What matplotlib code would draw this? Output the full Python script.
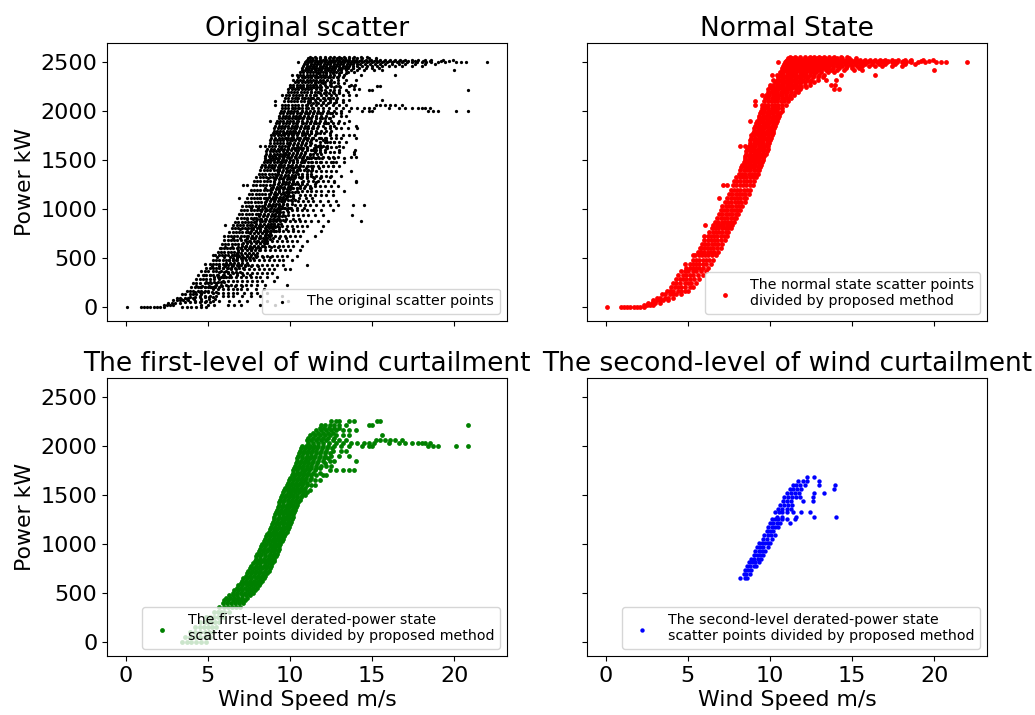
import matplotlib
matplotlib.use("Agg")
import matplotlib.pyplot as plt

# each row is (power kW, [wind speeds at that power])
normal_rows = [
    (-5, [0.05, 0.9, 1.1, 1.3, 1.5, 1.7, 1.9, 2.1, 2.3]),
    (20, [2.3, 2.5, 2.7, 2.9]),
    (40, [2.6, 2.8, 3.0, 3.3]),
    (65, [2.9, 3.1, 3.3, 3.5, 3.8]),
    (90, [3.1, 3.3, 3.6, 3.8, 4.1]),
    (125, [3.4, 3.6, 3.9, 4.1, 4.3, 4.6]),
    (160, [3.7, 3.9, 4.1, 4.4, 4.6, 4.8, 5.0]),
    (200, [4.0, 4.2, 4.4, 4.6, 4.8, 5.1, 5.3]),
    (240, [4.1, 4.3, 4.5, 4.8, 5.0, 5.2, 5.5]),
    (280, [4.3, 4.5, 4.7, 4.9, 5.1, 5.4, 5.7]),
    (320, [4.4, 4.7, 4.9, 5.1, 5.3, 5.6, 5.9]),
    (360, [4.6, 4.8, 5.0, 5.3, 5.5, 5.8, 6.1]),
    (400, [4.9, 5.1, 5.3, 5.5, 5.7, 5.9, 6.2]),
    (440, [4.85, 5.1, 5.3, 5.5, 5.7, 5.9, 6.1, 6.4]),
    (480, [5.3, 5.5, 5.7, 5.9, 6.1, 6.3, 6.5]),
    (525, [5.3, 5.45, 5.65, 5.85, 6.05, 6.25, 6.45, 6.7]),
    (560, [5.6, 5.8, 6.0, 6.2, 6.4, 6.6, 6.85]),
    (600, [5.8, 5.75, 5.95, 6.15, 6.35, 6.55, 6.75, 7.0]),
    (640, [5.85, 6.05, 6.25, 6.45, 6.65, 6.85, 7.1]),
    (680, [6.0, 6.2, 6.4, 6.6, 6.8, 7.0, 7.25]),
    (720, [6.0, 6.2, 6.4, 6.6, 6.8, 7.0, 7.2, 7.4]),
    (760, [6.3, 6.5, 6.7, 6.9, 7.1, 7.3, 7.45]),
    (800, [6.45, 6.65, 6.85, 7.05, 7.25, 7.45, 7.6]),
    (830, [6.05, 6.55, 6.75, 6.95, 7.15, 7.35, 7.55, 7.7]),
    (870, [6.65, 6.85, 7.05, 7.25, 7.45, 7.65, 7.8]),
    (910, [6.8, 7.0, 7.2, 7.4, 7.6, 7.8, 7.95]),
    (950, [6.9, 7.1, 7.3, 7.5, 7.7, 7.9, 8.05]),
    (990, [7.0, 7.2, 7.4, 7.6, 7.8, 8.0, 8.15]),
    (1030, [7.1, 7.3, 7.5, 7.7, 7.9, 8.1, 8.3]),
    (1070, [7.25, 7.45, 7.65, 7.85, 8.05, 8.25, 8.45]),
    (1110, [6.9, 7.4, 7.6, 7.8, 8.0, 8.2, 8.4, 8.55]),
    (1150, [7.5, 7.7, 7.9, 8.1, 8.3, 8.5, 8.7]),
    (1190, [7.6, 7.8, 8.0, 8.2, 8.4, 8.6, 8.8]),
    (1240, [7.13, 7.4, 7.75, 7.95, 8.15, 8.35, 8.55, 8.75, 8.95]),
    (1280, [7.8, 8.0, 8.2, 8.4, 8.6, 8.8, 9.05]),
    (1320, [7.95, 8.15, 8.35, 8.55, 8.75, 8.95, 9.15]),
    (1360, [8.1, 8.3, 8.5, 8.7, 8.9, 9.1, 9.25]),
    (1400, [8.2, 8.4, 8.6, 8.8, 9.0, 9.2, 9.35]),
    (1425, [8.25, 8.45, 8.65, 8.85, 9.05, 9.25, 9.4]),
    (1450, [8.3, 8.5, 8.7, 8.9, 9.1, 9.3, 9.45]),
    (1475, [8.4, 8.6, 8.8, 9.0, 9.2, 9.4, 9.5]),
    (1500, [8.45, 8.65, 8.85, 9.05, 9.25, 9.55]),
    (1520, [8.5, 8.75, 8.95, 9.15, 9.35, 9.6]),
    (1540, [8.5, 8.7, 8.9, 9.1, 9.3, 9.5, 9.65]),
    (1565, [8.55, 8.8, 9.0, 9.2, 9.4, 9.6, 9.75]),
    (1590, [8.55, 8.75, 8.95, 9.15, 9.35, 9.55, 9.8]),
    (1615, [8.6, 8.85, 9.05, 9.25, 9.45, 9.65, 9.85]),
    (1640, [8.2, 8.45, 8.7, 8.9, 9.1, 9.3, 9.5, 9.7, 9.9]),
    (1670, [8.75, 9.0, 9.2, 9.4, 9.6, 9.8, 9.95]),
    (1700, [8.8, 9.0, 9.2, 9.4, 9.6, 9.8, 10.0]),
    (1725, [8.85, 9.1, 9.3, 9.5, 9.7, 9.9, 10.05]),
    (1750, [8.85, 9.05, 9.25, 9.45, 9.65, 9.85, 10.1]),
    (1775, [8.95, 9.15, 9.35, 9.55, 9.75, 9.95, 10.15]),
    (1800, [9.0, 9.2, 9.4, 9.6, 9.8, 10.0, 10.2]),
    (1825, [9.05, 9.25, 9.45, 9.65, 9.85, 10.05, 10.25]),
    (1850, [9.1, 9.3, 9.5, 9.7, 9.9, 10.1, 10.3]),
    (1875, [9.15, 9.35, 9.55, 9.75, 9.95, 10.15, 10.35]),
    (1900, [8.75, 9.2, 9.4, 9.6, 9.8, 10.0, 10.2, 10.4]),
    (1925, [9.3, 9.5, 9.7, 9.9, 10.1, 10.3, 10.5]),
    (1950, [9.35, 9.55, 9.75, 9.95, 10.15, 10.35, 10.55]),
    (1975, [9.4, 9.6, 9.8, 10.0, 10.2, 10.4, 10.6]),
    (2000, [9.45, 9.65, 9.85, 10.05, 10.25, 10.45, 10.7]),
    (2030, [9.5, 9.7, 9.9, 10.1, 10.3, 10.5, 10.75]),
    (2060, [9.1, 9.5, 9.7, 9.9, 10.1, 10.3, 10.5, 10.75, 10.95]),
    (2100, [9.1, 9.65, 9.85, 10.05, 10.25, 10.45, 10.65, 10.85, 11.1]),
    (2130, [9.7, 9.9, 10.1, 10.3, 10.5, 10.7, 10.9, 11.1, 11.3]),
    (2160, [9.5, 9.75, 9.95, 10.15, 10.35, 10.55, 10.75, 10.95, 11.2, 11.45]),
    (2190, [9.85, 10.05, 10.25, 10.45, 10.65, 10.85, 11.05, 11.25, 11.5, 11.7]),
    (2220, [9.9, 10.1, 10.3, 10.5, 10.7, 10.9, 11.1, 11.3, 11.55, 11.8, 13.9, 14.2]),
    (2245, [10.0, 10.2, 10.4, 10.6, 10.8, 11.0, 11.2, 11.4, 11.65, 11.9, 12.2]),
    (2270, [10.0, 10.2, 10.4, 10.6, 10.8, 11.0, 11.2, 11.4, 11.6, 11.85, 12.1, 12.4, 13.7, 13.95]),
    (2295, [10.3, 10.5, 10.7, 10.9, 11.1, 11.3, 11.5, 11.7, 11.9, 12.15, 12.4, 12.7]),
    (2320, [10.2, 10.4, 10.6, 10.8, 11.0, 11.2, 11.4, 11.6, 11.8, 12.0, 12.25, 12.5, 12.9, 13.4, 14.0]),
    (2345, [10.5, 10.7, 10.9, 11.1, 11.3, 11.5, 11.7, 11.9, 12.1, 12.3, 12.6, 12.9, 13.2]),
    (2370, [10.1, 10.4, 10.6, 10.8, 11.0, 11.2, 11.4, 11.6, 11.8, 12.0, 12.2, 12.4, 12.7, 13.0, 13.3, 14.3, 16.4]),
    (2395, [10.6, 10.8, 11.0, 11.2, 11.4, 11.6, 11.8, 12.0, 12.2, 12.4, 12.6, 12.8, 13.1, 13.5, 13.9]),
    (2420, [10.7, 10.9, 11.1, 11.3, 11.5, 11.7, 11.9, 12.1, 12.3, 12.5, 12.7, 12.9, 13.1, 13.4, 13.7, 14.1, 14.5, 15.1, 15.6, 20.0]),
    (2440, [10.75, 10.95, 11.15, 11.35, 11.55, 11.75, 11.95, 12.15, 12.35, 12.55, 12.75, 12.95, 13.15, 13.35, 13.55, 13.8, 14.2, 14.6, 15.0, 15.4]),
    (2460, [10.8, 11.0, 11.2, 11.4, 11.6, 11.8, 12.0, 12.2, 12.4, 12.6, 12.8, 13.0, 13.2, 13.4, 13.6, 13.8, 14.1, 14.4, 14.7, 15.0, 15.3, 15.6, 16.0, 16.4, 16.8, 17.4, 18.0]),
    (2478, [10.85, 11.05, 11.25, 11.45, 11.65, 11.85, 12.05, 12.25, 12.45, 12.65, 12.85, 13.05, 13.25, 13.45, 13.65, 13.85, 14.05, 14.25, 14.55, 14.85, 15.15, 15.45, 15.75, 16.2, 16.6, 17.0, 17.6, 18.2, 18.8]),
    (2495, [10.5, 10.9, 11.1, 11.3, 11.5, 11.7, 11.9, 12.1, 12.3, 12.5, 12.7, 12.9, 13.1, 13.3, 13.5, 13.7, 13.9, 14.1, 14.4, 14.7, 15.0, 15.3, 15.6, 15.9, 16.2, 16.5, 16.8, 17.1, 17.4, 17.7, 18.0, 18.3, 18.6, 19.0, 19.4, 20.1, 20.4, 20.7, 22.0]),
    (2510, [10.95, 11.15, 11.35, 11.55, 11.75, 11.95, 12.15, 12.35, 12.55, 12.75, 12.95, 13.15, 13.35, 13.55, 13.75, 13.95, 14.2, 14.5, 14.8, 15.1, 15.4, 15.7, 16.0, 16.3, 16.6, 16.9, 17.2, 17.6, 18.1, 18.5, 19.2, 19.7]),
    (2525, [11.0, 11.2, 11.4, 11.6, 11.8, 12.0, 12.2, 12.4, 12.6, 12.8, 13.0, 13.2, 13.4, 13.6, 13.8, 14.0, 14.3, 14.6, 14.9, 15.2, 15.5, 15.8, 16.1, 16.4, 16.7, 17.0, 17.4, 17.8, 18.2, 18.6, 19.3, 19.9]),
    (2540, [11.1, 11.35, 11.6, 11.85, 12.1, 12.35, 12.6, 12.85, 13.1, 13.35, 13.6, 13.85, 14.1, 14.4, 14.8, 15.2]),
    (2555, [11.2, 11.5, 11.8, 12.1, 12.4, 12.7, 13.0, 13.3, 13.6, 13.9, 14.3, 14.7]),
]

first_rows = [
    (0, [3.4, 3.7, 4.0, 4.3, 4.6, 4.9]),
    (50, [3.6, 3.9, 4.2, 4.5, 4.8, 5.1]),
    (100, [3.9, 4.2, 4.5, 4.8, 5.05, 5.3]),
    (150, [4.2, 4.5, 4.75, 5.0, 5.25, 5.5]),
    (200, [4.5, 4.8, 5.0, 5.2, 5.45, 5.7]),
    (250, [4.9, 5.15, 5.4, 5.6, 5.8, 6.0]),
    (300, [5.4, 5.6, 5.8, 6.0, 6.3]),
    (350, [5.7, 5.95, 6.2, 6.45, 6.7, 6.95]),
    (400, [5.9, 6.15, 6.4, 6.65, 6.9, 7.15]),
    (425, [6.0, 6.25, 6.5, 6.75, 7.0, 7.25]),
    (450, [6.1, 6.35, 6.6, 6.85, 7.1, 7.35]),
    (475, [6.3, 6.55, 6.8, 7.05, 7.3, 7.55]),
    (500, [6.5, 6.75, 7.0, 7.25, 7.5, 7.75]),
    (525, [6.6, 6.85, 7.1, 7.35, 7.6, 7.85]),
    (550, [6.75, 7.0, 7.25, 7.5, 7.75, 8.0]),
    (575, [6.85, 7.1, 7.35, 7.6, 7.85, 8.1]),
    (600, [7.0, 7.25, 7.5, 7.7, 7.95, 8.2]),
    (625, [7.05, 7.3, 7.55, 7.8, 8.05, 8.3]),
    (650, [7.15, 7.4, 7.65, 7.9, 8.15, 8.4]),
    (675, [7.3, 7.55, 7.8, 8.05, 8.3, 8.5]),
    (700, [7.4, 7.65, 7.85, 8.1, 8.35, 8.6]),
    (725, [7.45, 7.7, 7.95, 8.2, 8.45, 8.7]),
    (750, [7.55, 7.8, 8.05, 8.3, 8.55, 8.75]),
    (775, [7.65, 7.9, 8.15, 8.4, 8.6, 8.85]),
    (800, [7.75, 8.0, 8.2, 8.45, 8.7, 8.9]),
    (825, [7.85, 8.1, 8.3, 8.55, 8.8, 9.0]),
    (850, [7.9, 8.15, 8.4, 8.65, 8.85, 9.05]),
    (875, [7.95, 8.2, 8.45, 8.7, 8.95, 9.15]),
    (900, [8.0, 8.25, 8.5, 8.75, 9.0, 9.2]),
    (925, [8.1, 8.35, 8.6, 8.85, 9.05, 9.25]),
    (950, [8.15, 8.4, 8.65, 8.9, 9.1, 9.3]),
    (975, [8.25, 8.5, 8.75, 8.95, 9.15, 9.35]),
    (1000, [8.3, 8.55, 8.8, 9.0, 9.2, 9.4]),
    (1025, [8.4, 8.65, 8.9, 9.1, 9.3, 9.5]),
    (1050, [8.45, 8.7, 8.95, 9.15, 9.35, 9.55]),
    (1075, [8.55, 8.8, 9.05, 9.25, 9.45, 9.65]),
    (1100, [8.6, 8.85, 9.1, 9.3, 9.5, 9.7]),
    (1125, [8.7, 8.95, 9.15, 9.4, 9.6, 9.8]),
    (1150, [8.75, 9.0, 9.2, 9.45, 9.65, 9.85]),
    (1175, [8.85, 9.1, 9.3, 9.55, 9.75, 9.95]),
    (1200, [8.9, 9.15, 9.35, 9.6, 9.8, 10.0]),
    (1225, [8.95, 9.2, 9.45, 9.65, 9.85, 10.05]),
    (1250, [9.0, 9.25, 9.5, 9.7, 9.9, 10.1]),
    (1275, [9.05, 9.3, 9.55, 9.75, 9.95, 10.15]),
    (1300, [9.1, 9.35, 9.6, 9.8, 10.0, 10.2]),
    (1325, [9.15, 9.4, 9.65, 9.85, 10.05, 10.25]),
    (1350, [9.2, 9.45, 9.7, 9.9, 10.1, 10.3]),
    (1375, [9.25, 9.5, 9.75, 9.95, 10.15, 10.35]),
    (1400, [9.3, 9.55, 9.8, 10.0, 10.2, 10.4]),
    (1425, [9.35, 9.6, 9.85, 10.05, 10.3, 10.5]),
    (1450, [9.4, 9.65, 9.9, 10.1, 10.35, 10.6]),
    (1475, [9.45, 9.7, 9.95, 10.15, 10.4, 10.65]),
    (1500, [9.5, 9.75, 10.0, 10.2, 10.45, 10.7, 10.9]),
    (1525, [9.6, 9.85, 10.05, 10.3, 10.55, 10.8, 11.0]),
    (1550, [9.65, 9.9, 10.1, 10.35, 10.6, 10.85, 11.2]),
    (1575, [9.7, 9.95, 10.2, 10.4, 10.65, 10.9]),
    (1600, [9.8, 10.05, 10.3, 10.5, 10.75, 11.0, 11.25, 11.5]),
    (1625, [9.85, 10.1, 10.35, 10.6, 10.8, 11.05]),
    (1650, [9.95, 10.2, 10.4, 10.65, 10.9, 11.2, 11.5, 11.8]),
    (1675, [10.0, 10.25, 10.5, 10.7, 10.95, 11.3]),
    (1700, [10.1, 10.3, 10.55, 10.8, 11.0, 11.25, 11.6, 12.0, 12.2]),
    (1725, [10.15, 10.4, 10.6, 10.85, 11.1, 11.4, 11.8]),
    (1750, [10.2, 10.45, 10.7, 10.9, 11.15, 11.5, 12.4, 12.8, 13.2, 13.6, 13.9]),
    (1775, [10.25, 10.5, 10.75, 11.0, 11.25, 11.55, 11.85]),
    (1800, [10.3, 10.55, 10.8, 11.05, 11.3, 11.6, 11.9, 12.2, 12.5]),
    (1825, [10.35, 10.6, 10.85, 11.1, 11.35, 11.65, 12.1]),
    (1850, [10.4, 10.65, 10.9, 11.1, 11.4, 11.7, 12.0, 12.4, 12.7, 14.0]),
    (1875, [10.45, 10.7, 10.95, 11.2, 11.45, 11.75, 12.05, 12.3]),
    (1900, [10.5, 10.75, 11.0, 11.25, 11.5, 11.8, 12.1, 12.5, 13.0, 13.6]),
    (1925, [10.55, 10.8, 11.05, 11.3, 11.55, 11.85, 12.15, 12.4]),
    (1950, [10.6, 10.85, 11.1, 11.35, 11.6, 11.9, 12.2, 12.6, 13.1, 13.4]),
    (1975, [10.65, 10.9, 11.15, 11.4, 11.65, 11.95, 12.25, 12.55]),
    (2000, [10.7, 10.95, 11.2, 11.45, 11.7, 12.0, 12.3, 12.7, 13.1, 13.6, 14.4, 14.8, 15.0, 18.4, 18.7, 19.0, 20.1, 20.8]),
    (2030, [11.1, 11.4, 11.7, 12.0, 12.35, 12.8, 13.2, 13.7, 14.1, 14.5, 14.8, 15.1, 16.0, 16.6, 17.0, 17.4, 17.8, 18.0, 18.2, 18.5]),
    (2060, [11.0, 11.3, 11.6, 11.9, 12.2, 12.6, 13.0, 13.4, 15.2, 15.5, 15.8, 16.1, 16.4, 16.8]),
    (2085, [11.1, 11.4, 11.7, 12.0, 12.3, 12.7]),
    (2110, [11.2, 11.5, 11.8, 12.1, 12.4, 12.8, 13.2, 13.6, 15.6]),
    (2135, [11.4, 11.7, 12.0, 12.3, 12.6]),
    (2160, [11.6, 11.9, 12.2, 12.5, 12.8, 13.2, 13.6, 14.0]),
    (2185, [11.8, 12.05, 12.35, 12.65, 13.0]),
    (2210, [11.9, 12.1, 12.4, 12.7, 13.0, 13.4, 14.8, 15.0, 20.8]),
    (2255, [12.5, 12.8, 12.95, 13.6, 13.9, 15.3, 15.5]),
]

second_rows = [
    (655, [8.2, 8.45, 8.6]),
    (690, [8.4, 8.55, 8.75]),
    (730, [8.45, 8.65, 8.85]),
    (770, [8.6, 8.8, 9.0, 9.15]),
    (810, [8.7, 8.9, 9.1, 9.3]),
    (850, [8.85, 9.05, 9.25, 9.45]),
    (890, [9.0, 9.2, 9.4, 9.6]),
    (930, [9.1, 9.3, 9.5, 9.7]),
    (970, [9.2, 9.4, 9.6, 9.85]),
    (1010, [9.3, 9.5, 9.7, 9.9, 10.0]),
    (1050, [9.55, 9.8, 10.1]),
    (1090, [9.65, 9.85, 10.05, 10.3]),
    (1130, [9.8, 10.0, 10.2]),
    (1170, [9.9, 10.1, 10.3, 10.5]),
    (1210, [10.0, 10.2, 10.4, 10.6, 11.2]),
    (1250, [10.1, 10.3, 10.5, 10.7, 11.0, 11.5]),
    (1275, [10.4, 10.7, 11.6, 12.7, 14.0]),
    (1320, [10.3, 10.55, 10.75, 11.0, 11.4, 11.9, 12.4]),
    (1360, [10.5, 10.75, 11.0, 11.3]),
    (1400, [10.6, 10.85, 11.1, 11.35]),
    (1440, [10.8, 11.05, 11.3, 12.0, 12.6]),
    (1480, [10.85, 11.1, 11.35, 11.6, 11.85, 12.6]),
    (1520, [11.0, 11.25, 11.5, 11.75, 12.7, 13.3]),
    (1560, [11.2, 11.4, 11.65, 11.9, 13.9]),
    (1600, [11.4, 11.6, 11.85, 12.1, 13.0, 13.95]),
    (1640, [11.7, 12.0, 12.25, 12.95]),
    (1680, [12.26, 12.7]),
]

# extra points only seen in the original scatter, between and right of the bands
other_rows = [
    (15, [4.6, 5.0, 5.4, 6.2, 6.6, 7.0, 8.2, 9.1]),
    (60, [4.2, 4.6, 4.9, 5.3, 5.7, 6.3, 6.9, 7.4, 8.6, 9.9]),
    (110, [4.5, 4.8, 5.1, 5.5, 5.9, 6.2, 6.5, 7.1, 7.6, 8.2, 9.5]),
    (145, [4.6, 5.3, 5.6, 5.9, 6.2, 6.5, 6.8, 7.2, 7.6, 8.0, 8.6]),
    (180, [5.3, 5.6, 5.9, 6.2, 6.5, 6.8, 7.0, 7.4, 7.9, 8.4]),
    (225, [5.5, 5.8, 6.1, 6.4, 6.7, 7.0, 7.3, 7.6, 8.0, 8.5, 9.8]),
    (260, [5.9, 6.2, 6.5, 6.8, 7.1, 7.4, 7.7, 8.0, 8.3, 9.0]),
    (305, [5.9, 6.1, 6.4, 6.7, 7.0, 7.3, 7.6, 7.9, 8.2, 8.6, 9.2]),
    (340, [6.2, 6.5, 6.8, 7.1, 7.4, 7.7, 8.0, 8.3, 8.6, 8.9]),
    (385, [6.4, 6.7, 7.2, 7.5, 7.8, 8.1, 8.4, 8.7, 9.0, 9.7, 10.0]),
    (430, [6.5, 6.9, 7.45, 7.7, 8.0, 8.3, 8.6, 8.9, 9.2, 9.6, 11.0]),
    (475, [6.7, 7.1, 7.8, 8.1, 8.4, 8.7, 9.0, 9.3, 9.6, 10.1]),
    (520, [6.9, 7.4, 8.0, 8.3, 8.6, 8.9, 9.2, 9.5, 9.8, 10.4]),
    (575, [7.1, 7.6, 8.2, 8.5, 8.8, 9.1, 9.4, 9.7, 10.0, 10.6]),
    (625, [7.3, 7.8, 8.4, 8.7, 9.0, 9.3, 9.6, 9.9, 10.2, 10.7]),
    (675, [7.5, 8.0, 8.6, 8.9, 9.2, 9.5, 9.8, 10.1, 10.4, 11.0]),
    (725, [7.7, 8.2, 8.8, 9.1, 9.4, 9.7, 10.0, 10.3, 10.6, 11.5]),
    (775, [7.9, 8.4, 9.0, 9.3, 9.6, 9.9, 10.2, 10.5, 10.8, 11.9]),
    (825, [8.1, 8.6, 9.2, 9.5, 9.8, 10.1, 10.4, 10.7, 11.0, 12.0]),
    (880, [8.3, 8.8, 9.4, 9.7, 10.0, 10.3, 10.6, 10.9, 11.3, 11.7, 12.3, 14.3]),
    (940, [8.4, 9.0, 9.6, 9.9, 10.2, 10.5, 10.8, 11.1, 11.5, 12.0, 13.75]),
    (985, [8.6, 9.15, 9.8, 10.1, 10.4, 10.7, 11.0, 11.4, 11.9, 12.6]),
    (1040, [8.8, 9.35, 9.8, 10.3, 10.6, 10.9, 11.2, 11.6, 12.0, 12.4, 12.9, 13.8, 14.5]),
    (1085, [9.0, 9.5, 10.1, 10.5, 10.8, 11.1, 11.4, 11.8, 12.3, 12.8]),
    (1140, [9.1, 9.7, 10.2, 10.6, 10.9, 11.2, 11.5, 11.9, 12.2, 12.6]),
    (1185, [9.3, 9.9, 10.4, 10.7, 11.0, 11.3, 11.6, 11.9, 12.3, 12.6, 13.3]),
    (1235, [9.4, 10.0, 10.6, 10.9, 11.2, 11.5, 11.8, 12.1, 12.5, 12.9]),
    (1285, [9.6, 10.2, 10.8, 11.1, 11.4, 11.7, 12.0, 12.3, 12.7, 14.0]),
    (1335, [9.7, 10.3, 10.7, 11.0, 11.3, 11.6, 11.9, 12.2, 12.5, 13.1]),
    (1385, [9.9, 10.4, 11.0, 11.3, 11.6, 11.9, 12.2, 12.5, 12.8, 13.7]),
    (1435, [10.0, 10.6, 11.1, 11.4, 11.7, 12.0, 12.3, 12.6, 13.0]),
    (1480, [10.2, 10.7, 11.3, 11.6, 11.9, 12.2, 12.5, 12.8, 13.3]),
    (1530, [9.8, 10.3, 10.8, 11.4, 11.7, 12.0, 12.3, 12.6, 12.9, 13.7, 14.0]),
    (1580, [10.4, 10.9, 11.5, 11.8, 12.1, 12.4, 12.7, 13.0, 13.9]),
    (1630, [10.5, 11.0, 11.6, 11.9, 12.2, 12.5, 12.8, 13.2]),
    (1680, [10.7, 11.2, 11.8, 12.1, 12.4, 12.7, 13.0, 13.4]),
    (1725, [10.9, 11.4, 11.9, 12.2, 12.5, 12.8, 13.1, 14.0]),
    (1825, [10.6, 11.0, 11.4, 12.4, 12.8, 13.1, 13.5, 14.1]),
    (1880, [10.8, 11.2, 11.6, 12.2, 12.6, 12.9, 13.3]),
    (1980, [11.0, 11.4, 11.8, 12.4, 12.8, 13.1]),
    (2090, [11.2, 11.6, 12.0, 12.4, 12.8, 13.2]),
    (2190, [11.3, 11.7, 12.2, 12.6, 13.0, 13.5]),
    (2290, [11.5, 12.0, 12.5, 12.9, 13.3]),
    (2390, [11.7, 12.2, 12.6, 13.0, 13.4]),
]

# a second pass over the dense part of the original scatter
dense_rows = [
    (75, [3.35, 3.75, 4.15, 4.55, 5.05, 5.45]),
    (210, [4.25, 4.65, 5.05, 5.45, 5.85, 6.25, 6.65, 7.05]),
    (325, [4.75, 5.15, 5.55, 5.95, 6.35, 6.75, 7.15, 7.55]),
    (415, [5.25, 5.65, 6.05, 6.45, 6.85, 7.25, 7.65, 8.05]),
    (505, [5.55, 5.95, 6.35, 6.75, 7.15, 7.55, 7.95, 8.35, 8.75]),
    (610, [6.05, 6.45, 6.85, 7.25, 7.65, 8.05, 8.45, 8.85, 9.25]),
    (700, [6.55, 6.95, 7.35, 7.75, 8.15, 8.55, 8.95, 9.35, 9.75]),
    (790, [6.95, 7.35, 7.75, 8.15, 8.55, 8.95, 9.35, 9.75, 10.15]),
    (895, [7.35, 7.75, 8.15, 8.55, 8.95, 9.35, 9.75, 10.15, 10.55]),
    (1005, [7.65, 8.05, 8.45, 8.85, 9.25, 9.65, 10.05, 10.45, 10.85]),
    (1115, [8.15, 8.55, 8.95, 9.35, 9.75, 10.15, 10.55, 10.95, 11.35]),
    (1215, [8.45, 8.85, 9.25, 9.65, 10.05, 10.45, 10.85, 11.25]),
    (1310, [8.65, 9.05, 9.45, 9.85, 10.25, 10.65, 11.05, 11.45, 11.85]),
    (1420, [8.95, 9.35, 9.75, 10.15, 10.55, 10.95, 11.35, 11.75]),
    (1520, [9.15, 9.55, 9.95, 10.35, 10.75, 11.15, 11.55, 11.95, 12.35]),
    (1620, [9.45, 9.85, 10.25, 10.65, 11.05, 11.45, 11.85, 12.25]),
    (1720, [9.75, 10.15, 10.55, 10.95, 11.35, 11.75, 12.15]),
    (1775, [9.65, 10.05, 10.45, 10.85, 11.25, 11.65, 12.05, 12.45]),
    (1925, [9.95, 10.35, 10.75, 11.15, 11.55, 11.95, 12.35]),
    (2030, [10.15, 10.55, 10.95, 11.35]),
    (2135, [10.45, 10.85, 11.25, 11.65, 12.05, 12.45, 12.85]),
    (2245, [10.65, 11.05, 11.45, 11.85, 12.25, 12.65, 13.05]),
    (2345, [10.85, 11.25, 11.65, 12.05, 12.45, 12.85]),
    (2440, [11.05, 11.45, 11.85, 12.25, 12.65, 13.05, 13.45, 13.85]),
]

x_ticks = [0, 5, 10, 15, 20]
y_ticks = [0, 500, 1000, 1500, 2000, 2500]


def flatten_rows(rows):
    """Turn (power, [winds]) rows into two flat lists for scatter."""
    wind = []
    power = []
    for level, winds in rows:
        wind.extend(winds)
        power.extend([level] * len(winds))
    return wind, power


def draw_panel(ax, rows, color, size, title, label):
    """Draw one scatter panel with its title and legend."""
    wind, power = flatten_rows(rows)
    ax.scatter(wind, power, s=size, c=color, linewidths=0, label=label)
    ax.set_title(title, fontsize=19, pad=5)
    ax.set_xlim(-1.14, 23.2)
    ax.set_ylim(-146, 2694)
    ax.set_xticks(x_ticks)
    ax.set_yticks(y_ticks)
    ax.tick_params(labelsize=16)
    ax.legend(loc="lower right", fontsize=10.2, scatterpoints=1)


fig = plt.figure(figsize=(10.35, 7.15), dpi=100)

# axes positions measured in pixels from the reference
ax_orig = fig.add_axes([107 / 1035, 1 - 321 / 715, 400 / 1035, 278 / 715])
ax_normal = fig.add_axes([587 / 1035, 1 - 321 / 715, 400 / 1035, 278 / 715])
ax_first = fig.add_axes([107 / 1035, 1 - 656 / 715, 400 / 1035, 278 / 715])
ax_second = fig.add_axes([587 / 1035, 1 - 656 / 715, 400 / 1035, 278 / 715])

draw_panel(ax_orig, normal_rows + first_rows + second_rows + other_rows + dense_rows, "black", 5.5,
           "Original scatter", "The original scatter points")
draw_panel(ax_normal, normal_rows, "red", 12, "Normal State",
           "The normal state scatter points\ndivided by proposed method")
draw_panel(ax_first, first_rows, "green", 12, "The first-level of wind curtailment",
           "The first-level derated-power state\nscatter points divided by proposed method")
draw_panel(ax_second, second_rows, "blue", 10, "The second-level of wind curtailment",
           "The second-level derated-power state\nscatter points divided by proposed method")

for ax in [ax_orig, ax_normal]:
    ax.tick_params(labelbottom=False)
for ax in [ax_normal, ax_second]:
    ax.tick_params(labelleft=False)
for ax in [ax_orig, ax_first]:
    ax.set_ylabel("Power kW", fontsize=15.8, labelpad=4)
for ax in [ax_first, ax_second]:
    ax.set_xlabel("Wind Speed m/s", fontsize=15.8, labelpad=3)

fig.savefig("out.png", dpi=100)
